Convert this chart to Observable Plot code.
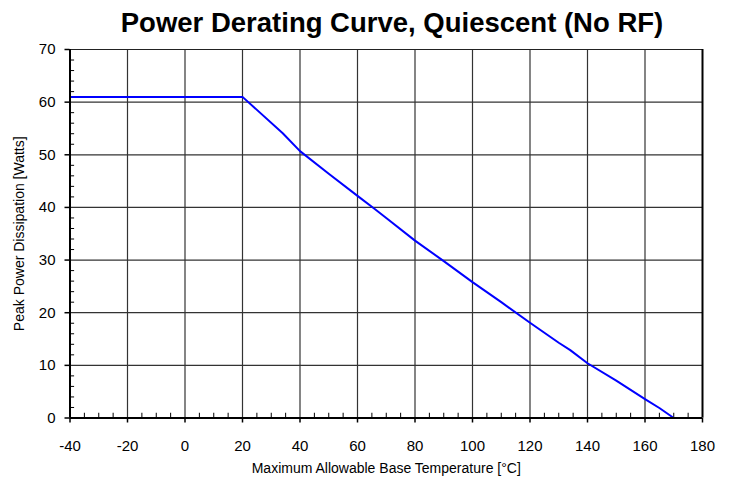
<!DOCTYPE html>
<html>
<head>
<meta charset="utf-8">
<script src="https://cdn.jsdelivr.net/npm/d3@7"></script>
<script src="https://cdn.jsdelivr.net/npm/@observablehq/plot@0.6"></script>
<style>
  body { margin: 0; background: #fff; font-family: "Liberation Sans", Arial, sans-serif; }
  #title { height: 34px; width: 732px; text-align: center; font-weight: bold; font-size: 27.5px; line-height: 28px; padding-top: 9px; box-sizing: border-box; color: #000; padding-left: 52px; white-space: nowrap; overflow: visible; }
</style>
</head>
<body>
<div id="title">Power Derating Curve, Quiescent (No RF)</div>
<div id="chart"></div>
<script>
const titleText = "Power Derating Curve, Quiescent (No RF)";
const xLabel = "Maximum Allowable Base Temperature [°C]";
const yLabel = "Peak Power Dissipation [Watts]";

// Curve: temperature (°C) vs peak power (W)
const temps = [-40, 20, 34, 40, 50, 60, 66, 70, 80, 90, 100, 110, 120, 130, 134, 140, 150, 160, 165, 170];
const watts = [61, 61, 54.1, 50.7, 46.4, 42.2, 39.7, 38.0, 33.7, 29.8, 25.8, 22.0, 18.1, 14.3, 12.9, 10.4, 7.1, 3.6, 1.9, 0];

const xTicks = [-40, -20, 0, 20, 40, 60, 80, 100, 120, 140, 160, 180];
const yTicks = [0, 10, 20, 30, 40, 50, 60, 70];
const xMinor = d3.range(-40, 181, 5).filter(v => v % 20 !== 0);
const yMinor = d3.range(0, 71, 2).filter(v => v % 10 !== 0);

const curve = temps.map((t, i) => ({t, w: watts[i]}));

const chart = Plot.plot({
  width: 732,
  height: 444,
  marginLeft: 69.5,
  marginRight: 30,
  marginTop: 15,
  marginBottom: 60.5,
  style: { fontFamily: "'Liberation Sans', Arial, sans-serif", fontSize: "15px", color: "#000", background: "#fff", overflow: "visible" },
  x: { domain: [-40, 180] },
  y: { domain: [0, 70] },
  marks: [
    Plot.ruleX(xTicks.slice(1, -1), { stroke: "#333", strokeWidth: 1.2 }),
    Plot.ruleY(yTicks.slice(1, -1), { stroke: "#333", strokeWidth: 1.2 }),
    Plot.ruleX(xMinor, { y1: 0, y2: 0.9, stroke: "#000", strokeWidth: 1 }),
    Plot.ruleY(yMinor, { x1: -40, x2: -38.4, stroke: "#000", strokeWidth: 1 }),
    Plot.ruleY([70], { stroke: "#222", strokeWidth: 1.2 }),
    Plot.ruleX([180], { stroke: "#000", strokeWidth: 2 }),
    Plot.line(curve, { x: "t", y: "w", stroke: "#0000ff", strokeWidth: 2 }),
    Plot.ruleX([-40], { stroke: "#000", strokeWidth: 2 }),
    Plot.ruleY([0], { stroke: "#000", strokeWidth: 2 }),
    Plot.axisX({ ticks: xTicks, tickFormat: d => String(d), tickSize: 5, tickPadding: 17, label: null, stroke: "#000", strokeWidth: 1.5, fontSize: 15 }),
    Plot.axisY({ ticks: yTicks, tickFormat: d => String(d), tickSize: 5, tickPadding: 9.5, label: null, stroke: "#000", strokeWidth: 1.5, fontSize: 15 }),
    Plot.text([xLabel], { frameAnchor: "bottom", dy: 55, fontSize: 14, fill: "#000" }),
    Plot.text([yLabel], { frameAnchor: "left", textAnchor: "middle", dx: -50, rotate: -90, fontSize: 14, fill: "#000" })
  ]
});
document.getElementById("chart").appendChild(chart);
</script>
</body>
</html>
